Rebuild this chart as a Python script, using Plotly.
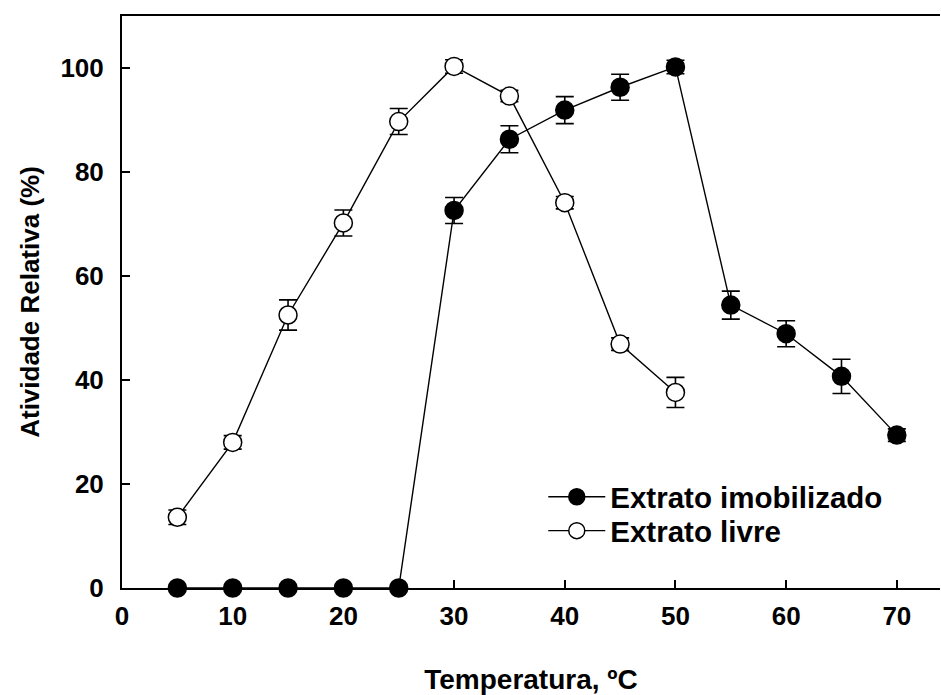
import plotly.graph_objects as go

# Data
temp_imob = [5, 10, 15, 20, 25, 30, 35, 40, 45, 50, 55, 60, 65, 70]
ativ_imob = [0, 0, 0, 0, 0, 72.6, 86.3, 91.9, 96.3, 100.2, 54.4, 48.9, 40.7, 29.4]
err_imob = [0, 0, 0, 0, 0, 2.5, 2.6, 2.6, 2.5, 1.3, 2.7, 2.5, 3.3, 1.2]

temp_livre = [5, 10, 15, 20, 25, 30, 35, 40, 45, 50]
ativ_livre = [13.6, 28.0, 52.5, 70.2, 89.7, 100.3, 94.6, 74.1, 46.9, 37.6]
err_livre = [1.4, 1.3, 2.9, 2.5, 2.5, 1.3, 1.1, 1.2, 1.2, 2.9]

x_ticks = [0, 10, 20, 30, 40, 50, 60, 70]
y_ticks = [0, 20, 40, 60, 80, 100]

FONT = "Liberation Sans, Arial, sans-serif"

fig = go.Figure()
fig.add_trace(go.Scatter(
    x=temp_imob, y=ativ_imob, mode="lines+markers", name="Extrato imobilizado",
    line=dict(color="black", width=1.4),
    marker=dict(symbol="circle", size=18, color="black", line=dict(color="black", width=1.5)),
    error_y=dict(type="data", array=err_imob, visible=True, color="black", thickness=1.6, width=9),
    cliponaxis=False, legend="legend",
))
fig.add_trace(go.Scatter(
    x=temp_livre, y=ativ_livre, mode="lines+markers", name="Extrato livre",
    line=dict(color="black", width=1.4),
    marker=dict(symbol="circle", size=18, color="white", line=dict(color="black", width=1.5)),
    error_y=dict(type="data", array=err_livre, visible=True, color="black", thickness=1.6, width=9),
    cliponaxis=False, legend="legend2",
))

legend_common = dict(
    xanchor="left", yanchor="middle", itemwidth=57,
    bgcolor="rgba(0,0,0,0)", borderwidth=0,
    font=dict(family=FONT, size=29.5, color="black", weight="bold"),
)

fig.update_layout(
    width=941, height=695,
    margin=dict(l=122, r=1, t=16, b=107, autoexpand=False),
    paper_bgcolor="white", plot_bgcolor="white",
    font=dict(family=FONT, color="black", size=26, weight="bold"),
    showlegend=True,
    legend=dict(x=0.515, y=0.159, **legend_common),
    legend2=dict(x=0.515, y=0.0997, **legend_common),
    xaxis=dict(
        range=[0, 73.9], tickvals=x_ticks, ticktext=[str(v) for v in x_ticks],
        showgrid=False, zeroline=False, automargin=False,
        showline=True, linecolor="black", linewidth=2, mirror=True,
        ticks="inside", ticklen=8, tickwidth=1.5, tickcolor="black",
        tickfont=dict(family=FONT, size=26, weight="bold"),
        ticklabelstandoff=4,
        title=dict(text="Temperatura, ºC", standoff=45,
                   font=dict(family=FONT, size=28, weight="bold")),
    ),
    yaxis=dict(
        range=[0, 110], tickvals=y_ticks, ticktext=[str(v) for v in y_ticks],
        showgrid=False, zeroline=False, automargin=False,
        showline=True, linecolor="black", linewidth=2, mirror=False,
        ticks="inside", ticklen=8, tickwidth=1.5, tickcolor="black",
        tickfont=dict(family=FONT, size=26, weight="bold"),
        ticklabelstandoff=11,
        title=dict(text="Atividade Relativa (%)", standoff=13,
                   font=dict(family=FONT, size=26, weight="bold")),
    ),
)

fig.write_html(
    "out.html",
    config={"displayModeBar": False},
    post_script="document.body.style.margin='0';document.body.style.overflow='hidden';",
)
